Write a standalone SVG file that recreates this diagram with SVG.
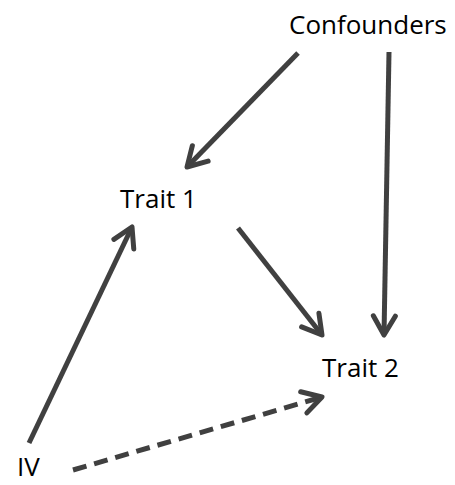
<svg xmlns="http://www.w3.org/2000/svg" width="455" height="485" viewBox="0 0 455 485">
<style>
.lbl{font-family:"Open Sans","Liberation Sans",sans-serif;font-size:26px;fill:#000}
.edge{stroke:#404040;stroke-width:5;fill:none;marker-end:url(#ah)}
.dash{stroke-dasharray:14 8}
</style>
<defs>
<marker id="ah" markerUnits="userSpaceOnUse" viewBox="-26 -15 30 30" refX="0" refY="0" markerWidth="30" markerHeight="30" orient="auto" overflow="visible">
<path d="M-19,-11 L0,0 L-19,11" fill="none" stroke="#404040" stroke-width="5" stroke-linecap="round" stroke-linejoin="round"/>
</marker>
</defs>
<rect width="455" height="485" fill="#fff"/>
<g id="connectors">
<path class="edge" d="M298,53 L187,167"/>
<path class="edge" d="M389,52 L384,335"/>
<path class="edge" d="M238,228 L322,335"/>
<path class="edge" d="M29,443 L132,227"/>
<path class="edge dash" d="M73,470 L322,397"/>
</g>
<g id="confounders"><text class="lbl" x="289" y="34">Confounders</text></g>
<g id="trait1"><text class="lbl" x="120" y="208">Trait 1</text></g>
<g id="trait2"><text class="lbl" x="322" y="377">Trait 2</text></g>
<g id="iv"><text class="lbl" x="17" y="476">IV</text></g>
</svg>
